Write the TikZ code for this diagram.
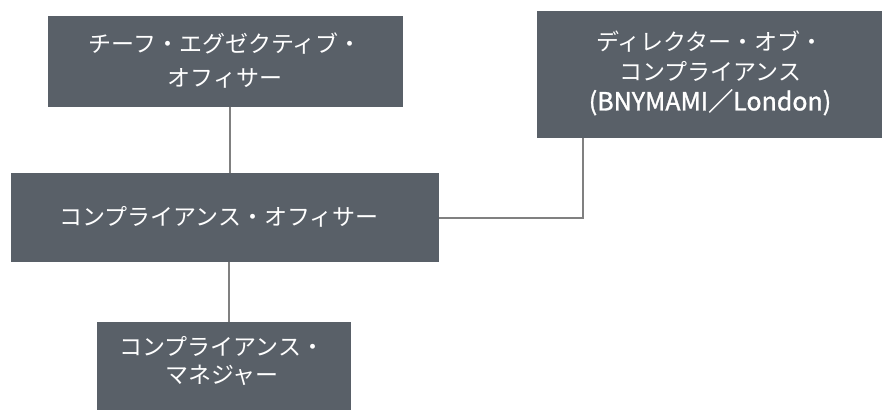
\documentclass[tikz,border=0pt]{standalone}
\usepackage{fontspec}
\newfontfamily\jp{Noto Sans CJK JP}
\newfontfamily\jpb[FakeBold=1.2]{Noto Sans CJK JP}
\definecolor{boxfill}{RGB}{89,96,104}
\definecolor{linegray}{RGB}{128,128,128}
\begin{document}
\begin{tikzpicture}[x=1pt,y=-1pt,
  orgbox/.style={draw=none, fill=boxfill, rectangle, inner sep=0pt, anchor=north west},
  orgtext/.style={text=white, align=center, inner sep=0pt, font=\jp\fontsize{23}{#1}\selectfont},
  link/.style={draw=linegray, line width=1.6pt}]
\useasboundingbox (0,0) rectangle (882,409);
\fill[white] (0,0) rectangle (882,409);
\clip (0,0) rectangle (882,409);
% boxes
\node[orgbox, minimum width=355pt, minimum height=91pt] (ceo) at (48,16) {};
\node[orgbox, minimum width=428pt, minimum height=89pt] (co) at (11,173) {};
\node[orgbox, minimum width=346pt, minimum height=127pt] (dir) at (537,11) {};
\node[orgbox, minimum width=254pt, minimum height=100pt] (mgr) at (97,322) {};
% texts
\node[orgtext=34pt] (ceotext) at (225,61) {チーフ・エグゼクティブ・\\オフィサー};
\node[orgtext=30pt] (cotext) at (219,217) {コンプライアンス・オフィサー};
\node[orgtext=30pt] (dirtext) at (710,73) {ディレクター・オブ・\\コンプライアンス\\{\jpb\fontsize{25}{30}\selectfont (BNYMAMI／London)}};
\node[orgtext=28pt] (mgrtext) at (222,361) {コンプライアンス・\\マネジャー};
% connectors
\draw[link] ([xshift=182pt]ceo.south west) -- ([xshift=219pt]co.north west);
\draw[link] ([xshift=218pt]co.south west) -- ([xshift=132pt]mgr.north west);
\draw[link] (co.east) -| ([xshift=46pt]dir.south west);
\end{tikzpicture}
\end{document}
